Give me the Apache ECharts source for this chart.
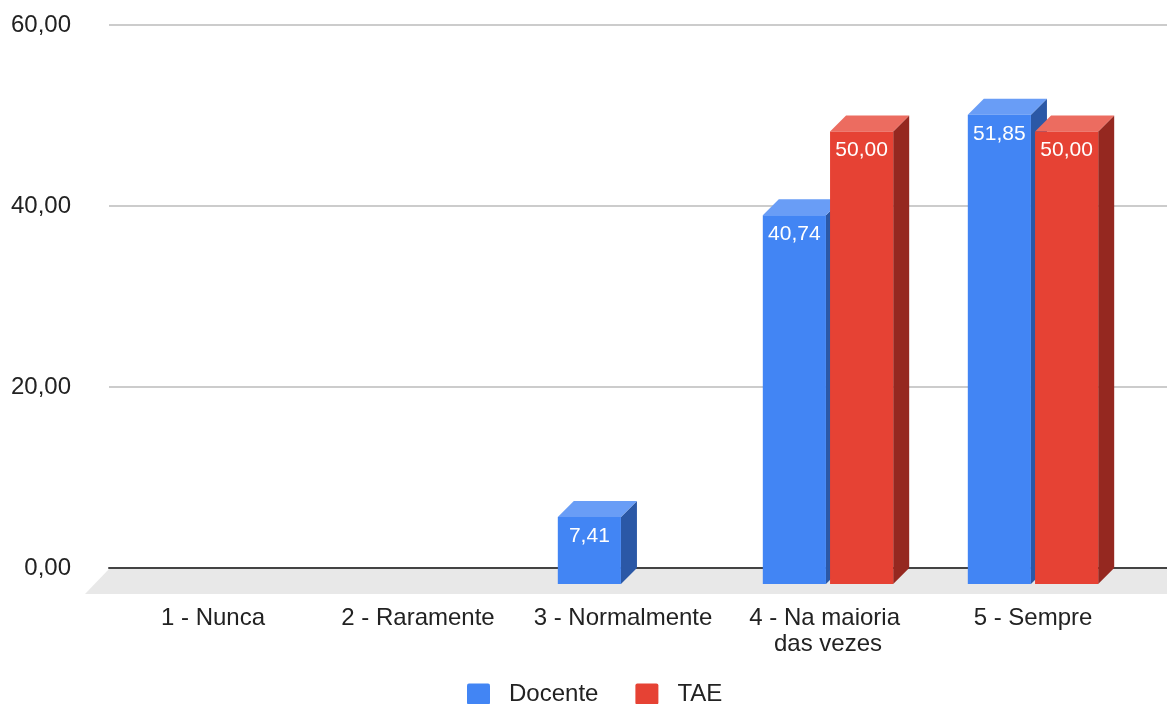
<!DOCTYPE html>
<html>
<head>
<meta charset="utf-8">
<script src="https://cdn.jsdelivr.net/npm/echarts@6/dist/echarts.min.js"></script>
<style>
html,body{margin:0;padding:0;background:#fff;}
#chart{width:1167px;height:704px;}
</style>
</head>
<body>
<div id="chart"></div>
<script>
const categories = ['1 - Nunca', '2 - Raramente', '3 - Normalmente', '4 - Na maioria das vezes', '5 - Sempre'];
const docente = [0, 0, 7.41, 40.74, 51.85];
const tae = [0, 0, 0, 50.00, 50.00];
const yTicks = [0, 20, 40, 60];

const FONT = '"Liberation Sans", Arial, sans-serif';
const DEPTH = 16;
const fmt = v => v.toFixed(2).replace('.', ',');

const palettes = {
  Docente: { front: '#4285F4', top: '#699DF6', side: '#2B58A6' },
  TAE: { front: '#E64234', top: '#EC6C60', side: '#952820' }
};

function barRenderer(name, side) {
  const pal = palettes[name];
  return function (params, api) {
    const v = api.value(1);
    if (!v) return null;
    const c = api.coord([api.value(0), v]);
    const b = api.coord([api.value(0), 0]);
    const band = api.size([1, 0])[0];
    const w = band * 0.308;
    const gap = band * 0.01;
    const x1 = side < 0 ? c[0] - gap - w : c[0] + gap;
    const top = c[1], base = b[1], d = DEPTH;
    return {
      type: 'group',
      children: [
        { type: 'polygon', shape: { points: [[x1 + w, top], [x1 + w + d, top - d], [x1 + w + d, base - d], [x1 + w, base]] }, style: { fill: pal.side } },
        { type: 'polygon', shape: { points: [[x1, top], [x1 + d, top - d], [x1 + w + d, top - d], [x1 + w, top]] }, style: { fill: pal.top } },
        { type: 'rect', shape: { x: x1, y: top, width: w, height: base - top }, style: { fill: pal.front } },
        { type: 'text', x: x1 + w / 2, y: top + 19, style: { text: fmt(v), fill: '#fff', font: '21px ' + FONT, align: 'center', verticalAlign: 'middle' } }
      ]
    };
  };
}

const chart = echarts.init(document.getElementById('chart'), null, { renderer: 'canvas' });
chart.setOption({
  animation: false,
  backgroundColor: '#fff',
  textStyle: { fontFamily: FONT },
  grid: [
    { left: 109, right: 0, top: 25, bottom: 136 },
    { left: 110.5, right: 31.5, top: 41, bottom: 120 }
  ],
  xAxis: [
    { gridIndex: 0, type: 'value', min: 0, max: 1, show: true, z: 3,
      axisLine: { show: true, onZero: false, lineStyle: { color: '#444', width: 2 } },
      axisTick: { show: false }, axisLabel: { show: false }, splitLine: { show: false } },
    { gridIndex: 1, type: 'category', data: categories,
      axisLine: { show: false }, axisTick: { show: false }, splitLine: { show: false },
      axisLabel: { color: '#222', fontSize: 24, fontFamily: FONT, margin: 21, lineHeight: 26,
        width: 195, overflow: 'break', interval: 0 } }
  ],
  yAxis: [
    { gridIndex: 0, type: 'value', min: 0, max: 60, interval: 20,
      axisLine: { show: false }, axisTick: { show: false },
      axisLabel: { color: '#222', fontSize: 24, fontFamily: FONT, margin: 38, formatter: v => yTicks.includes(v) ? fmt(v) : '' },
      splitLine: { show: true, lineStyle: { color: '#cccccc', width: 2 } } },
    { gridIndex: 1, type: 'value', min: 0, max: 60, interval: 20, show: false, splitLine: { show: false } }
  ],
  legend: {
    left: 467, top: 682, itemWidth: 23, itemHeight: 21, itemGap: 37, icon: 'path://M2,0 H21 Q23,0 23,2 V19 Q23,21 21,21 H2 Q0,21 0,19 V2 Q0,0 2,0 Z',
    textStyle: { fontSize: 24, color: '#222', fontFamily: FONT, padding: [0, 0, 0, 14], lineHeight: 24 },
    padding: 0,
    data: ['Docente', 'TAE']
  },
  series: [
    { type: 'custom', name: 'floor', xAxisIndex: 0, yAxisIndex: 0, z: 1, silent: true,
      data: [[0, 0]],
      renderItem: function (params, api) {
        const cs = params.coordSys;
        const y0 = cs.y + cs.height;
        return { type: 'polygon', shape: { points: [[cs.x + 1, y0], [cs.x + cs.width, y0], [cs.x + cs.width, y0 + 26], [cs.x - 24, y0 + 26]] }, style: { fill: '#e8e8e8' } };
      } },
    { type: 'custom', name: 'Docente', xAxisIndex: 1, yAxisIndex: 1, z: 4,
      itemStyle: { color: palettes.Docente.front },
      data: docente.map((v, i) => [i, v]),
      renderItem: barRenderer('Docente', -1) },
    { type: 'custom', name: 'TAE', xAxisIndex: 1, yAxisIndex: 1, z: 5,
      itemStyle: { color: palettes.TAE.front },
      data: tae.map((v, i) => [i, v]),
      renderItem: barRenderer('TAE', 1) }
  ]
});
</script>
</body>
</html>
